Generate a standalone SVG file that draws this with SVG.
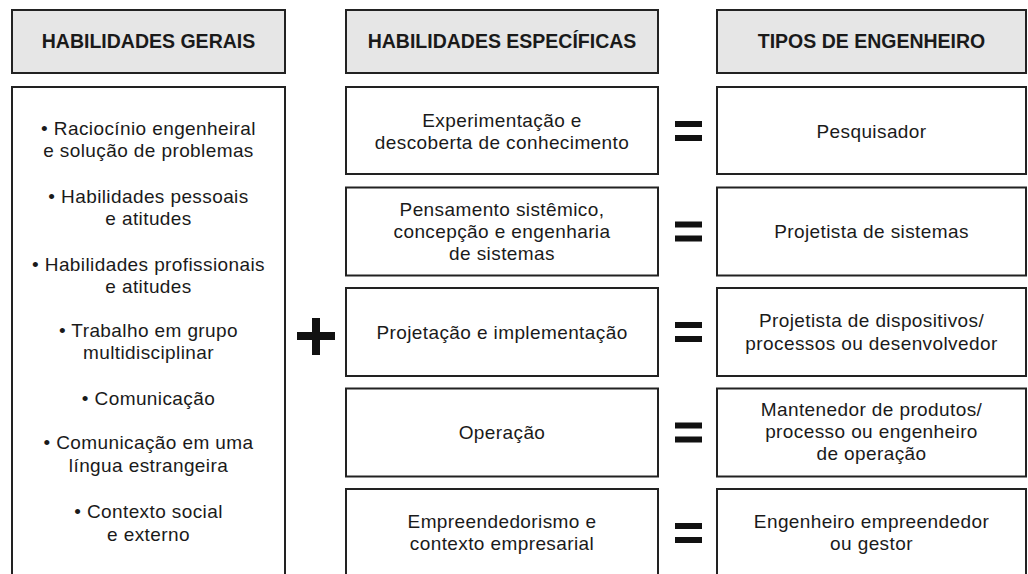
<svg xmlns="http://www.w3.org/2000/svg" width="1028" height="574" viewBox="0 0 1028 574">
<style>
.hdr{fill:#e6e6e6;stroke:#222;stroke-width:2}
.box{fill:#fff;stroke:#222;stroke-width:2}
.ht{font-family:"Liberation Sans",Arial,sans-serif;font-weight:bold;font-size:19.5px;fill:#1a1a1a;text-anchor:middle}
.t{font-family:"Liberation Sans",Arial,sans-serif;font-size:19px;letter-spacing:0.4px;fill:#1a1a1a;text-anchor:middle}
.sym{fill:#111}
</style>
<rect x="0" y="0" width="1028" height="574" fill="#fff"/>
<g id="header-gerais"><rect class="hdr" x="12" y="10" width="273" height="63"/><text class="ht" x="148.5" y="48">HABILIDADES GERAIS</text></g>
<g id="header-especificas"><rect class="hdr" x="346" y="10" width="312" height="63"/><text class="ht" x="502" y="48">HABILIDADES ESPECÍFICAS</text></g>
<g id="header-tipos"><rect class="hdr" x="717" y="10" width="309" height="63"/><text class="ht" x="871.5" y="48">TIPOS DE ENGENHEIRO</text></g>

<g id="gerais">
<rect class="box" x="12" y="87" width="273" height="500"/>
<text class="t" x="148.5" y="135">• Raciocínio engenheiral</text>
<text class="t" x="148.5" y="157">e solução de problemas</text>
<text class="t" x="148.5" y="203">• Habilidades pessoais</text>
<text class="t" x="148.5" y="225">e atitudes</text>
<text class="t" x="148.5" y="271">• Habilidades profissionais</text>
<text class="t" x="148.5" y="293">e atitudes</text>
<text class="t" x="148.5" y="337">• Trabalho em grupo</text>
<text class="t" x="148.5" y="359">multidisciplinar</text>
<text class="t" x="148.5" y="405">• Comunicação</text>
<text class="t" x="148.5" y="449">• Comunicação em uma</text>
<text class="t" x="148.5" y="472">língua estrangeira</text>
<text class="t" x="148.5" y="518">• Contexto social</text>
<text class="t" x="148.5" y="541">e externo</text>
</g>

<g id="plus" class="sym"><rect x="297" y="332" width="38" height="8"/><rect x="312" y="318" width="8" height="37"/></g>

<g id="esp1"><rect class="box" x="346" y="87" width="312" height="87"/><text class="t" x="502" y="127">Experimentação e</text><text class="t" x="502" y="149">descoberta de conhecimento</text></g>
<g id="esp2"><rect class="box" x="346" y="187.5" width="312" height="88"/><text class="t" x="502" y="216">Pensamento sistêmico,</text><text class="t" x="502" y="238">concepção e engenharia</text><text class="t" x="502" y="260">de sistemas</text></g>
<g id="esp3"><rect class="box" x="346" y="288" width="312" height="88"/><text class="t" x="502" y="339">Projetação e implementação</text></g>
<g id="esp4"><rect class="box" x="346" y="388.5" width="312" height="88"/><text class="t" x="502" y="439">Operação</text></g>
<g id="esp5"><rect class="box" x="346" y="489" width="312" height="100"/><text class="t" x="502" y="528">Empreendedorismo e</text><text class="t" x="502" y="550">contexto empresarial</text></g>

<g id="equals" class="sym">
<rect x="675" y="121" width="27" height="6"/><rect x="675" y="135" width="27" height="6"/>
<rect x="675" y="221.5" width="27" height="6"/><rect x="675" y="235.5" width="27" height="6"/>
<rect x="675" y="322" width="27" height="6"/><rect x="675" y="336" width="27" height="6"/>
<rect x="675" y="422.5" width="27" height="6"/><rect x="675" y="436.5" width="27" height="6"/>
<rect x="675" y="523" width="27" height="6"/><rect x="675" y="537" width="27" height="6"/>
</g>

<g id="tipo1"><rect class="box" x="717" y="87" width="309" height="87"/><text class="t" x="871.5" y="138">Pesquisador</text></g>
<g id="tipo2"><rect class="box" x="717" y="187.5" width="309" height="88"/><text class="t" x="871.5" y="238">Projetista de sistemas</text></g>
<g id="tipo3"><rect class="box" x="717" y="288" width="309" height="88"/><text class="t" x="871.5" y="327">Projetista de dispositivos/</text><text class="t" x="871.5" y="350">processos ou desenvolvedor</text></g>
<g id="tipo4"><rect class="box" x="717" y="388.5" width="309" height="88"/><text class="t" x="871.5" y="416">Mantenedor de produtos/</text><text class="t" x="871.5" y="438">processo ou engenheiro</text><text class="t" x="871.5" y="460">de operação</text></g>
<g id="tipo5"><rect class="box" x="717" y="489" width="309" height="100"/><text class="t" x="871.5" y="528">Engenheiro empreendedor</text><text class="t" x="871.5" y="550">ou gestor</text></g>
</svg>
